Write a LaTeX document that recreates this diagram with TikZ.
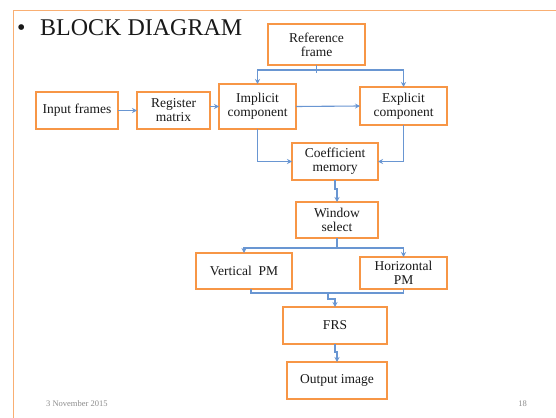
\documentclass[tikz,border=0pt]{standalone}
\usepackage{fontspec}
\setmainfont{Liberation Serif}
\usetikzlibrary{arrows.meta,calc}
\definecolor{boxorange}{RGB}{247,150,70}
\definecolor{frameorange}{RGB}{249,175,115}
\definecolor{linkblue}{RGB}{105,150,210}
\definecolor{txt}{RGB}{25,25,25}
\definecolor{foot}{RGB}{140,140,140}
\begin{document}
\begin{tikzpicture}[x=1pt,y=-1pt,
  blk/.style={draw=boxorange, line width=1.6pt, fill=white, inner sep=0pt, outer sep=0pt,
    align=center, text=txt, font=\fontsize{13.5}{14}\selectfont},
  conn/.style={draw=linkblue, line width=1.1pt},
  arr/.style={conn, -{Stealth[length=5pt,width=5pt]}}]
\useasboundingbox (0,0) rectangle (556,417);
\fill[white] (0,0) rectangle (556,417);
% slide frame
\draw[frameorange, line width=1.2pt] (13.5,430) -- (13.5,10.5) -- (570,10.5);
% title
\node[text=txt, font=\fontsize{24}{27}\selectfont, anchor=base west, inner sep=0pt] (bul) at (17,36) {•};
\node[text=txt, font=\fontsize{24}{27}\selectfont, anchor=base west, inner sep=0pt] (title) at (40,36) {BLOCK DIAGRAM};
% blocks
\node[blk, minimum width=97, minimum height=41] (ref) at (316.5,44.5) {Reference\\frame};
\node[blk, minimum width=82, minimum height=37] (inp) at (77,110.5) {Input frames};
\node[blk, minimum width=73, minimum height=37] (reg) at (173.5,110.5) {Register\\matrix};
\node[blk, minimum width=77, minimum height=45] (impl) at (257.5,106.5) {Implicit\\component};
\node[blk, minimum width=87, minimum height=38] (expl) at (403.5,106) {Explicit\\component};
\node[blk, minimum width=86, minimum height=37] (coef) at (335,161.5) {Coefficient\\memory};
\node[blk, minimum width=82, minimum height=36] (win) at (337,220) {Window\\select};
\node[blk, minimum width=96, minimum height=36] (vpm) at (244,271) {Vertical\ \ PM};
\node[blk, minimum width=87, minimum height=32] (hpm) at (403.5,273) {Horizontal\\PM};
\node[blk, minimum width=104, minimum height=37] (frs) at (335,325.5) {FRS};
\node[blk, minimum width=100, minimum height=37] (out) at (337,380.5) {Output image};
% connectors
\draw[conn] (ref.south) -- ++(0,8);
\coordinate (rj) at ($(ref.south)+(0,5)$);
\draw[arr] (rj) -| (impl.north);
\draw[arr] (rj) -| (expl.north);
\draw[arr] (inp.east) -- (reg.west);
\draw[arr] (reg.east |- impl.west) -- (impl.west);
\draw[arr] (impl.east) -- (expl.west);
\draw[arr] (impl.south) |- (coef.west);
\draw[arr] (expl.south) |- (coef.east);
\draw[arr] (coef.south) -- ++(0,9) -| (win.north);
\draw[conn] (win.south) -- ++(0,10);
\coordinate (wj) at ($(win.south)+(0,10)$);
\draw[arr] (wj) -| (vpm.north);
\draw[arr] (wj) -| (hpm.north);
\coordinate (vb) at ($(vpm.south)+(7,0)$);
\draw[conn] (vb) -- ++(0,4) -| (hpm.south);
\coordinate (pj) at (328,293);
\draw[arr] (pj) -- ++(0,6) -| (frs.north);
\draw[arr] (frs.south) -- ++(0,8) -| (out.north);
% footer
\node[text=foot, font=\fontsize{8.5}{10}\selectfont, anchor=base west, inner sep=0pt] (date) at (46,406) {3 November 2015};
\node[text=foot, font=\fontsize{8.5}{10}\selectfont, anchor=base east, inner sep=0pt] (page) at (527,406) {18};
\end{tikzpicture}
\end{document}
